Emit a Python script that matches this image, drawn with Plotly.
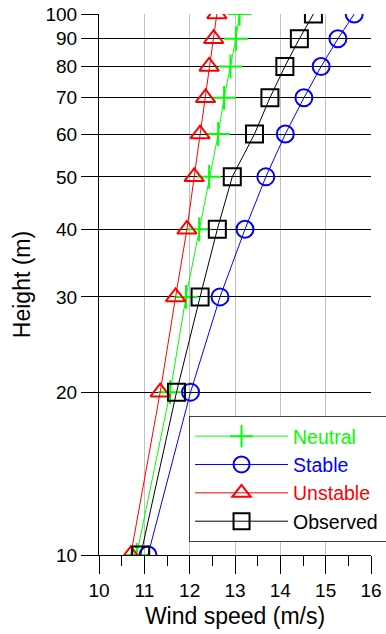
import plotly.graph_objects as go

heights = [10, 20, 30, 40, 50, 60, 70, 80, 90, 100]
neutral = [10.83, 11.57, 11.92, 12.21, 12.43, 12.63, 12.76, 12.90, 13.02, 13.10]
stable = [11.08, 12.02, 12.67, 13.22, 13.68, 14.11, 14.52, 14.90, 15.27, 15.63]
unstable = [10.70, 11.35, 11.69, 11.94, 12.10, 12.23, 12.35, 12.43, 12.53, 12.60]
observed = [10.92, 11.71, 12.23, 12.61, 12.94, 13.43, 13.77, 14.10, 14.42, 14.73]

x_ticks = [10, 11, 12, 13, 14, 15, 16]
y_ticks = [10, 20, 30, 40, 50, 60, 70, 80, 90, 100]

FONT = "Liberation Sans, Arial, sans-serif"

series = [
    ("Neutral", neutral, "#00ff00", "cross-thin-open"),
    ("Stable", stable, "#0000ff", "circle-open"),
    ("Unstable", unstable, "#ff0000", "triangle-up-open"),
    ("Observed", observed, "#000000", "square-open"),
]

fig = go.Figure()
for name, vals, color, sym in series:
    fig.add_trace(go.Scatter(
        x=vals, y=heights, mode="lines+markers",
        name=f"<span style='color:{color}'>{name}</span>\u00a0\u00a0\u00a0",
        line=dict(color=color, width=1),
        marker=dict(symbol=sym, size=17, color=color, line=dict(color=color, width=2)),
    ))

fig.update_layout(
    width=386, height=634,
    margin=dict(l=99, r=15, t=14, b=79, autoexpand=False),
    plot_bgcolor="white", paper_bgcolor="white",
    font=dict(family=FONT, size=19, color="black"),
    showlegend=True,
    legend=dict(
        x=0.331, y=0.257, xanchor="left", yanchor="top",
        bgcolor="white", bordercolor="#404040", borderwidth=1,
        font=dict(family=FONT, size=19.5),
        itemwidth=93, tracegroupgap=0,
    ),
    xaxis=dict(
        range=[10, 16], tickvals=x_ticks, ticktext=[str(v) for v in x_ticks],
        showgrid=True, gridcolor="#c0c0c0", gridwidth=1,
        ticks="outside", ticklen=18, tickcolor="black", tickwidth=1,
        minor=dict(dtick=0.5, ticks="outside", ticklen=10, tickcolor="black", showgrid=False),
        showline=True, linecolor="black", linewidth=1,
        zeroline=False, automargin=False,
        title=dict(text="Wind speed (m/s)", standoff=8),
    ),
    yaxis=dict(
        type="log", range=[1, 2], tickvals=y_ticks, ticktext=[str(v) for v in y_ticks],
        showgrid=True, gridcolor="black", gridwidth=1,
        ticks="outside", ticklen=17, tickcolor="black", tickwidth=1,
        showline=True, linecolor="black", linewidth=1,
        zeroline=False, automargin=False,
        title=dict(text="Height (m)", standoff=8),
    ),
)

fig.write_html("out.html")
